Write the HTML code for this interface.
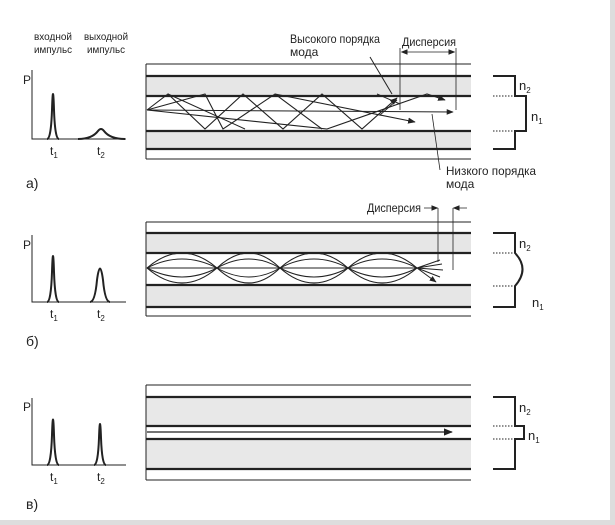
<!DOCTYPE html>
<html><head><meta charset="utf-8"><style>
html,body{margin:0;padding:0;background:#fff}
svg{display:block}
text{font-family:"Liberation Sans",sans-serif;fill:#222}
</style></head><body>
<svg width="615" height="525" viewBox="0 0 615 525" xmlns="http://www.w3.org/2000/svg">
<defs><marker id="ar" viewBox="0 0 10 10" refX="9" refY="5" markerWidth="7" markerHeight="7" orient="auto"><path d="M0,1 L10,5 L0,9 z" fill="#222"/></marker></defs>
<rect x="0" y="0" width="615" height="525" fill="#fff"/>
<rect x="610" y="0" width="5" height="525" fill="#ddd"/>
<rect x="0" y="520" width="615" height="5" fill="#ddd"/>
<g stroke="#222" fill="none">
<!-- Panel a graph -->
<path d="M32,70 V139 H126" stroke-width="1"/>
<path d="M47,139 Q51,139 52,110 Q53,78 54,110 Q55,139 59,139" stroke-width="2"/>
<path d="M78,139 Q92,139 98,131 Q101,127 104,131 Q110,139 125,139" stroke-width="2"/>
<!-- Panel a fiber -->
<rect x="146" y="76" width="325" height="20" fill="#e6e6e6" stroke="none"/>
<rect x="146" y="131" width="325" height="18" fill="#e6e6e6" stroke="none"/>
<path d="M146,64 H471 M146,159 H471 M146,64 V159" stroke-width="1"/>
<path d="M146,76 H471 M146,96 H471 M146,131 H471 M146,149 H471" stroke-width="2.2"/>
<path d="M147,110 L453,112" stroke-width="1" marker-end="url(#ar)"/>
<path d="M147,110 L168,94 L205,129 L243,94 L283,129 L322,94 L362,129 L397,98" stroke-width="1.1" marker-end="url(#ar)"/>
<path d="M147,110 L205,94 L223,129 L275,94 L322,129" stroke-width="1.1"/>
<path d="M168,94 L245,129" stroke-width="1"/>
<path d="M147,110 L327,129 L427,94 L445,100" stroke-width="1.1" marker-end="url(#ar)"/>
<path d="M275,94 L415,122" stroke-width="1.1" marker-end="url(#ar)"/>
<path d="M377,94 L400,104 M397,100 L380,115" stroke-width="1"/>
<path d="M370,57 L392,94" stroke-width="1"/>
<path d="M400,48 V110 M456,48 V110" stroke-width="0.8"/>
<path d="M402,52 H454" stroke-width="0.8"/>
<path d="M402,52 l5,-2 v4 z M454,52 l-5,-2 v4 z" fill="#222"/>
<path d="M432,114 L440,170" stroke-width="0.8"/>
<!-- Panel a profile -->
<path d="M493,76 H515 V96 H526 V131 H515 V149 H493" stroke-width="2"/>
<path d="M493,96 H514 M493,131 H514" stroke-width="1" stroke-dasharray="1.5,1.5"/>

<!-- Panel b graph -->
<path d="M32,235 V302 H126" stroke-width="1"/>
<path d="M47,302 Q51,302 52,272 Q53,240 54,272 Q55,302 59,302" stroke-width="2"/>
<path d="M90,302 Q95,302 97,280 Q100,257 103,280 Q105,302 110,302" stroke-width="2"/>
<!-- Panel b fiber -->
<rect x="146" y="233" width="325" height="20" fill="#e6e6e6" stroke="none"/>
<rect x="146" y="285" width="325" height="22" fill="#e6e6e6" stroke="none"/>
<path d="M146,222 H471 M146,316 H471 M146,222 V316" stroke-width="1"/>
<path d="M146,233 H471 M146,253 H471 M146,285 H471 M146,307 H471" stroke-width="2.2"/>
<path d="M147,268 H417" stroke-width="1"/>
<path d="M147,268 Q182,238 217,268 Q249,238 280,268 Q314,238 348,268 Q382,238 417,268 M147,268 Q182,298 217,268 Q249,298 280,268 Q314,298 348,268 Q382,298 417,268" stroke-width="1.1"/>
<path d="M147,268 Q182,250 217,268 Q249,250 280,268 Q314,250 348,268 Q382,250 417,268 M147,268 Q182,286 217,268 Q249,286 280,268 Q314,286 348,268 Q382,286 417,268" stroke-width="1"/>
<path d="M417,268 L440,260 M417,268 L442,264 M417,268 L443,270 M417,268 L440,277 M417,268 L436,282" stroke-width="1" marker-end="url(#ar)"/>
<path d="M438,208 V262 M453,208 V270" stroke-width="0.8"/>
<path d="M424,208 H437 M467,208 H454" stroke-width="0.8"/>
<path d="M437,208 l-5,-2 v4 z M454,208 l5,-2 v4 z" fill="#222"/>
<!-- Panel b profile -->
<path d="M493,233 H515 V253 Q530,269 515,286 V307 H493" stroke-width="2"/>
<path d="M493,253 H513 M493,286 H513" stroke-width="1" stroke-dasharray="1.5,1.5"/>

<!-- Panel c graph -->
<path d="M32,398 V465 H126" stroke-width="1"/>
<path d="M47,465 Q51,465 52,435 Q53,404 54,435 Q55,465 59,465" stroke-width="2"/>
<path d="M94,465 Q98,465 99,438 Q100,410 101,438 Q102,465 106,465" stroke-width="2"/>
<!-- Panel c fiber -->
<rect x="146" y="397" width="325" height="29" fill="#e8e8e8" stroke="none"/>
<rect x="146" y="439" width="325" height="30" fill="#e8e8e8" stroke="none"/>
<path d="M146,385 H471 M146,480 H471 M146,385 V480" stroke-width="1"/>
<path d="M146,397 H471 M146,426 H471 M146,439 H471 M146,469 H471" stroke-width="2.2"/>
<path d="M147,432 H452" stroke-width="1.3" marker-end="url(#ar)"/>
<!-- Panel c profile -->
<path d="M493,397 H515 V426 H524 V439 H515 V469 H493" stroke-width="2"/>
<path d="M493,426 H513 M493,439 H513" stroke-width="1" stroke-dasharray="1.5,1.5"/>
</g>
<g font-size="10.5">
<text x="53" y="40" text-anchor="middle" textLength="38" lengthAdjust="spacingAndGlyphs">входной</text>
<text x="53" y="53" text-anchor="middle" textLength="38" lengthAdjust="spacingAndGlyphs">импульс</text>
<text x="106" y="40" text-anchor="middle" textLength="44" lengthAdjust="spacingAndGlyphs">выходной</text>
<text x="106" y="53" text-anchor="middle" textLength="38" lengthAdjust="spacingAndGlyphs">импульс</text>
</g>
<g font-size="12">
<text x="290" y="43" textLength="90" lengthAdjust="spacingAndGlyphs">Высокого порядка</text>
<text x="290" y="56">мода</text>
<text x="402" y="46" textLength="54" lengthAdjust="spacingAndGlyphs">Дисперсия</text>
<text x="446" y="175" textLength="90" lengthAdjust="spacingAndGlyphs">Низкого порядка</text>
<text x="446" y="188">мода</text>
<text x="367" y="212" textLength="54" lengthAdjust="spacingAndGlyphs">Дисперсия</text>
</g>
<g font-size="12">
<text x="23" y="84">P</text><text x="23" y="249">P</text><text x="23" y="411">P</text>
<text x="50" y="155">t<tspan font-size="8" dy="3">1</tspan></text>
<text x="97" y="155">t<tspan font-size="8" dy="3">2</tspan></text>
<text x="50" y="318">t<tspan font-size="8" dy="3">1</tspan></text>
<text x="97" y="318">t<tspan font-size="8" dy="3">2</tspan></text>
<text x="50" y="481">t<tspan font-size="8" dy="3">1</tspan></text>
<text x="97" y="481">t<tspan font-size="8" dy="3">2</tspan></text>
<text x="519" y="90" font-size="13">n<tspan font-size="8" dy="3">2</tspan></text>
<text x="531" y="121" font-size="13">n<tspan font-size="8" dy="3">1</tspan></text>
<text x="519" y="248" font-size="13">n<tspan font-size="8" dy="3">2</tspan></text>
<text x="532" y="307" font-size="13">n<tspan font-size="8" dy="3">1</tspan></text>
<text x="519" y="412" font-size="13">n<tspan font-size="8" dy="3">2</tspan></text>
<text x="528" y="440" font-size="13">n<tspan font-size="8" dy="3">1</tspan></text>
</g>
<g font-size="14">
<text x="26" y="188">а)</text>
<text x="26" y="346">б)</text>
<text x="26" y="509">в)</text>
</g>
</svg>
</body></html>
